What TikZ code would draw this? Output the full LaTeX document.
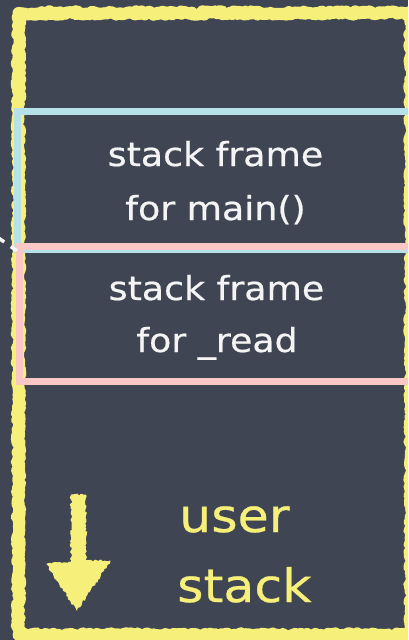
\documentclass[tikz,border=0pt]{standalone}
\usepackage{fontspec}
\usetikzlibrary{decorations.pathmorphing}
\newfontfamily\chalkfont[FakeStretch=1.1,FakeBold=0.6]{DejaVu Sans}
\definecolor{board}{HTML}{404554}
\definecolor{chalkyellow}{HTML}{F6F07A}
\definecolor{mainblue}{HTML}{B7E1E8}
\definecolor{readpink}{HTML}{FCC8C5}
\definecolor{chalkwhite}{HTML}{F4F4F4}
\begin{document}
\begin{tikzpicture}[x=1pt,y=-1pt,
  chalkborder/.style={draw=chalkyellow, line width=12pt, line join=round,
    decorate, decoration={random steps, segment length=2pt, amplitude=1.8pt}},
  chalkedge/.style={draw=chalkyellow, line width=6pt, line join=round,
    decorate, decoration={random steps, segment length=1.5pt, amplitude=2.6pt}},
  chalkfill/.style={fill=chalkyellow, draw=chalkyellow, line width=1pt, line join=round,
    decorate, decoration={random steps, segment length=2pt, amplitude=1.2pt}},
  framebox/.style={draw, line width=7pt, inner sep=0pt, outer sep=0pt},
  wtext/.style={text=chalkwhite, inner sep=0pt, font=\chalkfont\fontsize{33}{40}\selectfont},
  ytext/.style={text=chalkyellow, inner sep=0pt, font=\chalkfont\fontsize{46}{52}\selectfont},
  pointer/.style={draw=chalkwhite, line width=3.5pt, dash pattern=on 7.5pt off 8pt}
]
\fill[board] (0,0) rectangle (408,640);
\useasboundingbox (0,0) rectangle (408,640);
\clip (0,0) rectangle (408,640);
\pgfmathsetseed{7}
% chalk border
\draw[chalkborder] (18.5,13) rectangle (411,635);
\draw[chalkedge] (18.5,13) rectangle (411,635);
% stack frames
\node[framebox, draw=mainblue, minimum width=423pt, minimum height=138pt] (mainframe) at (228.5,180) {};
\node[framebox, draw=readpink, minimum width=421pt, minimum height=135pt] (readframe) at (229.5,313.5) {};
% frame labels
\node[wtext, anchor=base] (m1) at (215.5,166) {stack frame};
\node[wtext, anchor=base] (m2) at (215.5,220) {for main()};
\node[wtext, anchor=base] (r1) at (216.5,300) {stack frame};
\node[wtext, anchor=base] (r2) at (217,352) {for \_read};
% pointer from outside
\coordinate (sp) at (-40,211);
\coordinate (spend) at (20,253);
\draw[pointer] (sp) -- (spend);
% downward arrow
\draw[chalkfill] (71.5,495) -- (85.5,495) -- (85.5,561) -- (110,561) -- (77,610) -- (47,564) -- (71.5,562) -- cycle;
% user stack label
\node[ytext, anchor=base west] (u1) at (179,532) {user};
\node[ytext, anchor=base west] (u2) at (177,602) {stack};
\end{tikzpicture}
\end{document}
